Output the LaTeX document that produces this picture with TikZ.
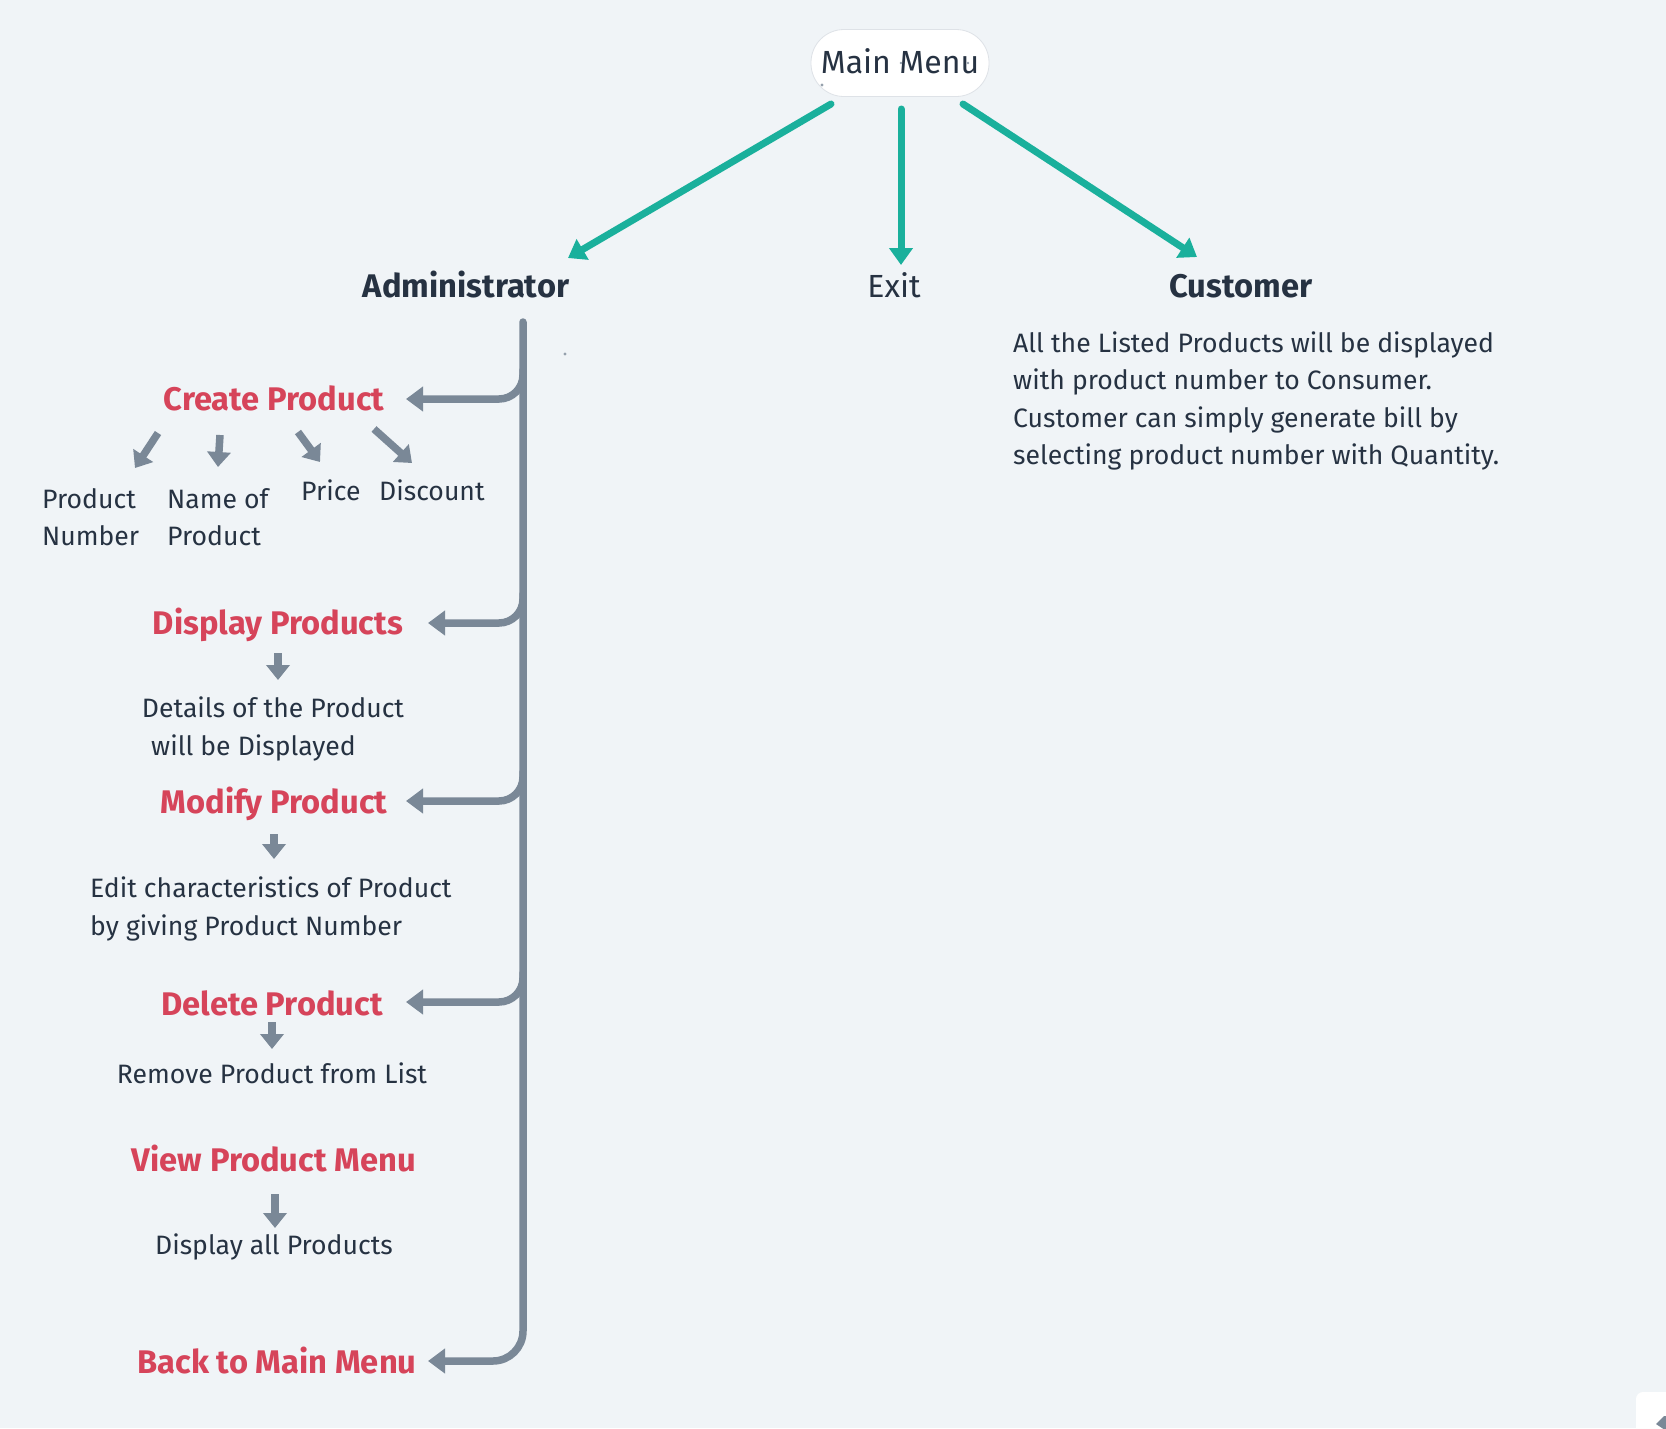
\documentclass[tikz,border=0pt]{standalone}
\usepackage{fontspec}
\setmainfont{Fira Sans}
\usetikzlibrary{arrows.meta}

\definecolor{bg}{RGB}{240,244,247}
\definecolor{ink}{RGB}{38,50,66}
\definecolor{actred}{RGB}{214,68,90}
\definecolor{teal}{RGB}{26,176,156}
\definecolor{slate}{RGB}{122,136,151}
\definecolor{rim}{RGB}{222,226,231}

\begin{document}
\begin{tikzpicture}[x=1pt,y=-1pt,
  body/.style={font=\fontsize{26.6}{31}\selectfont, text=ink, inner sep=0pt},
  head/.style={font=\fontsize{32.7}{38}\selectfont\bfseries, text=ink, inner sep=0pt},
  act/.style={font=\fontsize{32.7}{38}\selectfont\bfseries, text=actred, inner sep=0pt},
  menubox/.style={draw=rim, line width=0.8pt, fill=white, rounded corners=33pt,
    minimum width=178pt, minimum height=67pt, inner sep=0pt},
  tealarrow/.style={draw=teal, line width=7pt, line cap=round,
    -{Triangle[length=17pt,width=23pt]}},
  spine/.style={draw=slate, line width=7.5pt, line cap=round},
  spinearrow/.style={spine, -{Triangle[length=17pt,width=24pt]}},
  subarrow/.style={draw=slate, line width=7.5pt,
    -{Triangle[length=15pt,width=23pt]}},
  handle/.style={fill=slate!80, draw=none}
]
% canvas
\path[use as bounding box, fill=bg] (0,0) rectangle (1666,1428);

% top level
\node[menubox] (menu) at (900,63) {};
\node[anchor=base, font=\fontsize{32}{36}\selectfont, text=ink, inner sep=0pt] (menutxt) at (900,73) {Main Menu};
\fill[handle] (822,85) circle (1.6pt);
\fill[handle] (901,63) circle (1.4pt);
\fill[handle] (968,63) circle (1.4pt);

\node[head, anchor=base] (admin) at (466,297) {Administrator};
\node[anchor=base, font=\fontsize{32}{36}\selectfont, text=ink, inner sep=0pt] (exit) at (894,297) {Exit};
\node[head, anchor=base] (cust) at (1241,297) {Customer};

\coordinate (mL) at (831,104);
\coordinate (mC) at (901,109);
\coordinate (mR) at (963,104);
\coordinate (aT) at (568,258);
\coordinate (eT) at (901,265);
\coordinate (cT) at (1197,257);
\draw[tealarrow] (mL) -- (aT);
\draw[tealarrow] (mC) -- (eT);
\draw[tealarrow] (mR) -- (cT);

% customer description
\node[body, anchor=base west] (c1) at (1013,352) {All the Listed Products will be displayed};
\node[body, anchor=base west] (c2) at (1013,389) {with product number to Consumer.};
\node[body, anchor=base west] (c3) at (1013,427) {Customer can simply generate bill by};
\node[body, anchor=base west] (c4) at (1013,464) {selecting product number with Quantity.};

% administrator spine with branches
\coordinate (spTop) at (523,322);
\coordinate (tipBack) at (428,1361);
\draw[spinearrow, rounded corners=30pt] (spTop) |- (tipBack);
\fill[handle] (565,354) circle (1.6pt);

\coordinate (bC) at (523,370);  \coordinate (tipC) at (406,399);
\coordinate (bD) at (523,594);  \coordinate (tipD) at (428,623);
\coordinate (bM) at (523,772);  \coordinate (tipM) at (406,801);
\coordinate (bX) at (523,973);  \coordinate (tipX) at (406,1002);
\draw[spinearrow, rounded corners=24pt] (bC) |- (tipC);
\draw[spinearrow, rounded corners=24pt] (bD) |- (tipD);
\draw[spinearrow, rounded corners=24pt] (bM) |- (tipM);
\draw[spinearrow, rounded corners=24pt] (bX) |- (tipX);

% create product
\node[act, anchor=base] (create) at (274,410) {Create Product};
\coordinate (s1) at (158,433); \coordinate (t1) at (135,468);
\coordinate (s2) at (220,435); \coordinate (t2) at (218,467);
\coordinate (s3) at (298,432); \coordinate (t3) at (320,462);
\coordinate (s4) at (374,429); \coordinate (t4) at (412,463);
\draw[subarrow] (s1) -- (t1);
\draw[subarrow] (s2) -- (t2);
\draw[subarrow] (s3) -- (t3);
\draw[subarrow] (s4) -- (t4);
\node[body, anchor=base west] (pn1) at (42,508) {Product};
\node[body, anchor=base west] (pn2) at (42,545) {Number};
\node[body, anchor=base west] (nm1) at (167,508) {Name of};
\node[body, anchor=base west] (nm2) at (167,545) {Product};
\node[body, anchor=base west] (price) at (301,500) {Price};
\node[body, anchor=base west] (disc) at (379,500) {Discount};

% display products
\node[act, anchor=base] (display) at (278,634) {Display Products};
\coordinate (sD) at (278,653); \coordinate (tD) at (278,680);
\draw[subarrow] (sD) -- (tD);
\node[body, anchor=base] (d1) at (273,717) {Details of the Product};
\node[body, anchor=base west] (d2) at (151,755) {will be Displayed};

% modify product
\node[act, anchor=base] (modify) at (274,813) {Modify Product};
\coordinate (sM) at (274,834); \coordinate (tM) at (274,859);
\draw[subarrow] (sM) -- (tM);
\node[body, anchor=base west] (e1) at (90,897) {Edit characteristics of Product};
\node[body, anchor=base west] (e2) at (90,935) {by giving Product Number};

% delete product
\node[act, anchor=base] (delete) at (272,1015) {Delete Product};
\coordinate (sX) at (272,1022); \coordinate (tX) at (272,1049);
\draw[subarrow] (sX) -- (tX);
\node[body, anchor=base] (rm) at (272,1083) {Remove Product from List};

% view product menu
\node[act, anchor=base] (view) at (274,1171) {View Product Menu};
\coordinate (sV) at (275,1194); \coordinate (tV) at (275,1228);
\draw[subarrow] (sV) -- (tV);
\node[body, anchor=base] (all) at (274,1254) {Display all Products};

% back to main menu
\node[act, anchor=base] (back) at (277,1373) {Back to Main Menu};

% corner widget
\fill[white, rounded corners=7pt] (1636,1392) rectangle (1690,1450);
\fill[slate] (1656,1424) -- (1664,1416) -- (1668,1416) -- (1668,1432) -- cycle;
\end{tikzpicture}
\end{document}
